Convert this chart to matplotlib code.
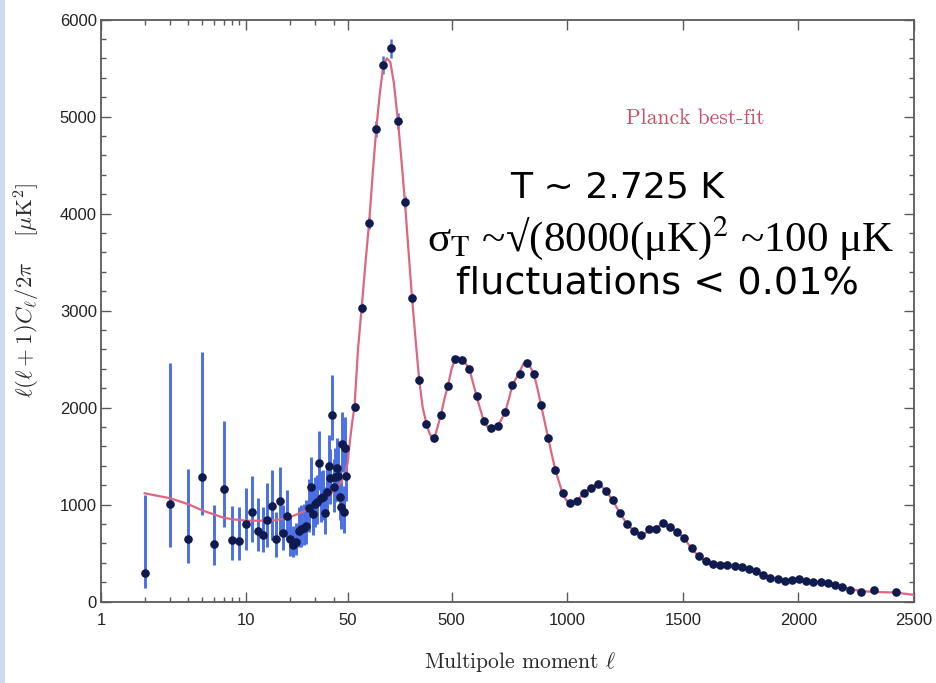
import numpy as np
import matplotlib
matplotlib.use("Agg")
import matplotlib.pyplot as plt
from matplotlib.patches import Rectangle
from matplotlib.ticker import FixedLocator, FixedFormatter

# ---------------- data ----------------
ell_low = [2, 3, 4, 5, 6, 7, 8, 9, 10, 11, 12, 13, 14, 15, 16, 17, 18, 19,
           20, 21, 22, 23, 24, 25, 26, 27, 28, 29, 30, 31, 32, 33, 34, 35,
           36, 37, 38, 39, 40, 41, 42, 43, 44, 45, 46, 47, 48, 49]
D_low = [293, 1004, 643, 1282, 598, 1161, 636, 629, 801, 928, 725, 687, 842,
         989, 646, 1041, 705, 886, 646, 584, 615, 732, 746, 760, 783, 969,
         1185, 904, 1004, 1030, 1426, 1066, 1082, 917, 1134, 1399, 1272,
         1924, 1179, 1288, 1375, 1295, 1082, 979, 1622, 928, 1581, 1300]
err_low_up = [810, 1453, 721, 1295, 399, 701, 350, 344, 368, 371, 341, 292,
              378, 368, 282, 350, 292, 265, 250, 200, 200, 240, 250, 250,
              260, 300, 310, 270, 280, 280, 330, 280, 280, 260, 290, 320,
              300, 410, 290, 300, 310, 300, 280, 270, 330, 260, 320, 300]
err_low_dn = [155, 437, 241, 388, 220, 388, 206, 199, 268, 309, 199, 171,
              275, 353, 182, 354, 172, 250, 170, 120, 130, 170, 180, 180,
              190, 250, 250, 220, 230, 230, 280, 240, 240, 220, 250, 280,
              260, 260, 250, 260, 270, 260, 240, 230, 290, 220, 280, 260]

ell_bin = [80, 111, 143, 174, 205, 237, 268, 298, 329, 360, 391, 422, 453,
           484, 515, 546, 577, 608, 639, 670, 701, 732, 763, 794, 825, 856,
           887, 918, 949, 980, 1011, 1042, 1073, 1104, 1135, 1166, 1197,
           1228, 1259, 1290, 1321, 1352, 1383, 1414, 1445, 1476, 1507, 1538,
           1569, 1600, 1631, 1662, 1693, 1724, 1755, 1786, 1817, 1848, 1879,
           1910, 1941, 1972, 2003, 2034, 2065, 2096, 2127, 2158, 2189, 2222,
           2269, 2327, 2420]
D_bin = [2010, 3030, 3900, 4872, 5531, 5703, 4954, 4122, 3127, 2280, 1835,
         1692, 1920, 2226, 2505, 2486, 2395, 2120, 1865, 1787, 1814, 1958,
         2233, 2347, 2463, 2344, 2027, 1684, 1357, 1117, 1019, 1035, 1120,
         1175, 1210, 1142, 1045, 911, 801, 732, 687, 746, 749, 814, 773, 721,
         653, 550, 471, 419, 385, 378, 378, 371, 361, 337, 316, 275, 247, 234,
         213, 224, 231, 213, 206, 206, 190, 172, 155, 121, 97, 121, 97]
err_bin = [40, 50, 60, 80, 90, 100, 80, 60, 50, 40, 30, 30, 30, 30, 30, 30,
           30, 30, 25, 25, 25, 25, 25, 25, 25, 25, 25, 25, 20, 20, 20, 20, 20,
           20, 20, 20, 20, 20, 20, 20, 20, 20, 20, 20, 20, 20, 20, 20, 20, 20,
           20, 20, 20, 20, 20, 20, 20, 20, 20, 20, 20, 20, 20, 20, 20, 20, 20,
           20, 20, 20, 20, 20, 20]

ell_fit = [2, 3, 4, 5, 6, 7, 8, 10, 13, 16, 20, 25, 30, 35, 40, 45, 48, 50,
           60, 70, 80, 95, 111, 127, 143, 160, 174, 190, 205, 220, 235, 250,
           268, 283, 298, 314, 329, 345, 360, 375, 391, 405, 415, 430, 453,
           470, 484, 500, 515, 530, 546, 562, 577, 592, 608, 623, 639, 655,
           672, 690, 701, 716, 732, 748, 763, 794, 810, 825, 840, 856, 871,
           887, 902, 918, 933, 949, 965, 980, 995, 1011, 1026, 1042, 1057,
           1073, 1089, 1104, 1120, 1135, 1150, 1166, 1182, 1197, 1213, 1228,
           1244, 1259, 1275, 1290, 1306, 1321, 1337, 1352, 1368, 1383, 1400,
           1414, 1430, 1445, 1460, 1476, 1492, 1507, 1522, 1538, 1554, 1569,
           1585, 1600, 1616, 1631, 1662, 1693, 1724, 1755, 1786, 1817, 1848,
           1879, 1910, 1941, 1972, 2003, 2034, 2065, 2096, 2127, 2158, 2189,
           2222, 2269, 2327, 2420, 2500]
D_fit = [1117, 1066, 1004, 940, 900, 865, 850, 835, 835, 840, 870, 930, 995,
         1060, 1140, 1230, 1323, 1426, 1650, 1850, 2010, 2600, 3030, 3480,
         3900, 4450, 4870, 5250, 5531, 5600, 5560, 5350, 4954, 4550, 4122,
         3600, 3127, 2680, 2280, 2000, 1835, 1730, 1690, 1720, 1920, 2100,
         2226, 2400, 2500, 2520, 2486, 2450, 2395, 2260, 2120, 1990, 1865,
         1800, 1785, 1795, 1814, 1880, 1958, 2090, 2233, 2370, 2450, 2470,
         2420, 2344, 2200, 2027, 1860, 1684, 1520, 1357, 1230, 1117, 1050,
         1019, 1020, 1040, 1080, 1120, 1155, 1180, 1200, 1205, 1185, 1142,
         1095, 1045, 975, 911, 855, 801, 760, 730, 705, 695, 705, 730, 755,
         770, 785, 790, 785, 770, 745, 715, 685, 650, 600, 550, 505, 470, 440,
         418, 400, 388, 378, 376, 370, 358, 338, 312, 280, 252, 233, 220, 218,
         220, 212, 204, 200, 188, 172, 155, 132, 110, 100, 95, 70]

xtick_vals = [1, 10, 50, 500, 1000, 1500, 2000, 2500]
xtick_labels = ["1", "10", "50", "500", "1000", "1500", "2000", "2500"]
xminor_vals = [2, 3, 4, 5, 6, 7, 8, 9, 20, 30, 40]
ytick_vals = [0, 1000, 2000, 3000, 4000, 5000, 6000]
ytick_labels = ["0", "1000", "2000", "3000", "4000", "5000", "6000"]

# ------------- hybrid log / linear x scale -------------
L50 = np.log10(50.0)
KLIN = 0.001593


def fwd(x):
    x = np.asarray(x, dtype=float)
    xl = np.log10(np.clip(x, 1e-6, None))
    return np.where(x <= 50, xl, L50 + (x - 50.0) * KLIN)


def inv(y):
    y = np.asarray(y, dtype=float)
    return np.where(y <= L50, 10 ** np.minimum(y, 10), 50.0 + (y - L50) / KLIN)


# ---------------- figure ----------------
fig = plt.figure(figsize=(9.36, 6.83), dpi=100)
fig.patches.append(Rectangle((0, 0), 5 / 936, 1, transform=fig.transFigure,
                             facecolor="#cbdaf0", edgecolor="none"))
ax = fig.add_axes([101 / 936, 1 - 601.7 / 683, 813 / 936, 582.2 / 683])
ax.set_xscale("function", functions=(fwd, inv))

navy = "#0f1a4e"
blue = "#4a6ee6"
red = "#de6680"

ax.errorbar(ell_low, D_low, yerr=[err_low_dn, err_low_up], fmt="none",
            ecolor=blue, elinewidth=2.1, capsize=0, zorder=2)
ax.errorbar(ell_bin, D_bin, yerr=err_bin, fmt="none",
            ecolor=blue, elinewidth=1.8, capsize=0, zorder=2)
ax.plot(ell_fit, D_fit, color=red, lw=1.6, zorder=3)
ax.plot(ell_low, D_low, "o", color=navy, ms=5.2, zorder=4)
ax.plot(ell_bin, D_bin, "o", color=navy, ms=5.2, zorder=4)

ax.set_xlim(1, 2500)
ax.set_ylim(0, 6000)

ax.xaxis.set_major_locator(FixedLocator(xtick_vals))
ax.xaxis.set_major_formatter(FixedFormatter(xtick_labels))
ax.xaxis.set_minor_locator(FixedLocator(xminor_vals))
ax.yaxis.set_major_locator(FixedLocator(ytick_vals))
ax.yaxis.set_major_formatter(FixedFormatter(ytick_labels))
ax.yaxis.set_minor_locator(FixedLocator(np.arange(0, 6001, 200)))

spine_col = "#5a5a5a"
for s in ax.spines.values():
    s.set_color(spine_col)
    s.set_linewidth(1.3)
ax.tick_params(which="both", direction="in", top=True, right=True,
               color=spine_col, width=1.0)
ax.tick_params(which="major", length=7)
ax.tick_params(which="minor", length=3.5)
ax.tick_params(axis="x", which="major", pad=8)
ax.tick_params(axis="y", which="major", pad=3)
for lab in ax.get_xticklabels() + ax.get_yticklabels():
    lab.set_fontfamily("Liberation Sans")
    lab.set_fontsize(12)
    lab.set_color("#222222")

# axis labels
fig.text(520 / 936, 1 - 662 / 683, r"Multipole moment $\ell$", family="cmr10",
         math_fontfamily="cm", fontsize=15.5, color="#2a2a2a",
         ha="center", va="center")
fig.text(27 / 936, 1 - 290 / 683,
         r"$\ell(\ell+1)C_\ell/2\pi\quad\ [\mu\mathrm{K}^2]$",
         math_fontfamily="cm", fontsize=16.5, color="#2a2a2a", rotation=90,
         ha="center", va="center")

# legend text
fig.text(695 / 936, 1 - 118 / 683, "Planck best-fit", family="cmr10",
         fontsize=15.5, color="#cc4f68", ha="center", va="center")

# annotation
fig.text(617 / 936, 1 - 187 / 683, "T ~ 2.725 K", family="DejaVu Sans",
         fontsize=26, color="black", ha="center", va="center")
fig.text(661 / 936, 1 - 238 / 683,
         "σ$_{\\mathrm{T}}$ ~√(8000(μK)$^{2}$ ~100 μK",
         family=["Liberation Serif", "DejaVu Serif"], math_fontfamily="stix",
         fontsize=31, color="black", ha="center", va="center")
fig.text(657 / 936, 1 - 283 / 683, "fluctuations < 0.01%",
         family="DejaVu Sans", fontsize=27.5, color="black",
         ha="center", va="center")

fig.savefig("out.png", dpi=100, facecolor="white")
